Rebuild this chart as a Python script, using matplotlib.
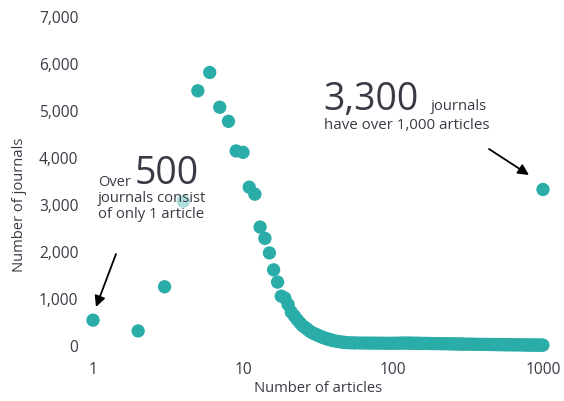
import matplotlib
matplotlib.use("Agg")
import matplotlib.pyplot as plt
from matplotlib.patches import Rectangle
from matplotlib.ticker import FuncFormatter

# Number of articles per journal (x) and how many journals have that count (y)
articles = list(range(1, 41)) + [
    42, 44, 46, 48, 50, 53, 56, 60, 64, 68, 72, 76, 80, 85, 90, 95, 100, 105,
    110, 115, 120, 125, 130, 135, 140, 145, 150, 157, 165, 172, 180, 190, 200,
    210, 220, 230, 240, 250, 260, 270, 280, 290, 300, 315, 330, 345, 360, 380,
    400, 420, 440, 460, 480, 500, 520, 540, 560, 580, 600, 625, 650, 675, 700,
    725, 750, 775, 800, 825, 850, 875, 900, 925, 950, 975, 999, 1000]
journals = [
    550, 320, 1260, 3080, 5430, 5820, 5080, 4780, 4150, 4120,
    3380, 3230, 2530, 2290, 1980, 1620, 1360, 1060, 1020, 880,
    720, 640, 560, 490, 430, 390, 350, 310, 280, 260,
    240, 220, 200, 185, 170, 155, 145, 135, 125, 115,
    100, 90, 82, 76, 70, 67, 65, 64, 63, 62, 61, 60, 60, 59, 58, 58, 58, 59,
    60, 61, 62, 61, 60, 59, 58, 57, 56, 56, 55, 54, 52, 51, 50,
    49, 48, 47, 46, 45, 44, 43, 42, 41, 40, 39, 38, 37, 36, 35,
    34, 33, 32, 31, 30, 29, 28, 28, 27, 26, 26, 25, 25, 24, 24,
    23, 22, 22, 21, 21, 20, 20, 19, 19, 18, 18, 18, 3330]

y_ticks = [0, 1000, 2000, 3000, 4000, 5000, 6000, 7000]
x_ticks = [1, 10, 100, 1000]
x_tick_labels = ["1", "10", "100", "1000"]

W, H = 564, 401
TEAL = "#2aaca8"
INK = "#3a3a45"

plt.rcParams["font.family"] = ["Open Sans", "DejaVu Sans"]

fig = plt.figure(figsize=(W / 100, H / 100), dpi=100)
ax = fig.add_axes([84 / W, 1 - 356 / H, (556 - 84) / W, (356 - 17) / H])

ax.scatter(articles, journals, s=92, color=TEAL, edgecolors="none",
           zorder=2, clip_on=False)

ax.set_xscale("log")
ax.set_xlim(0.871, 1221)
ax.set_ylim(-213, 7000)
ax.set_xticks(x_ticks)
ax.set_xticklabels(x_tick_labels)
ax.minorticks_off()
ax.set_yticks(y_ticks)
ax.yaxis.set_major_formatter(FuncFormatter(lambda v, p: f"{int(v):,}"))
ax.tick_params(axis="both", length=0, labelsize=11.2, colors=INK)
ax.tick_params(axis="y", pad=4)
ax.tick_params(axis="x", pad=4)
for s in ax.spines.values():
    s.set_visible(False)


def fx(px):
    return px / W


def fy(py):
    return 1 - py / H


fig.text(fx(318), fy(389), "Number of articles", ha="center", va="center",
         fontsize=10.6, color=INK)
fig.text(fx(20), fy(205), "Number of journals", ha="center", va="center",
         rotation=90, fontsize=10.6, color=INK)

# translucent panel behind the left callout
fig.patches.append(Rectangle((fx(95), fy(223)), (207 - 95) / W, (223 - 150) / H,
                             transform=fig.transFigure, facecolor="white",
                             alpha=0.62, edgecolor="none", zorder=3))

fig.text(fx(98), fy(186), "Over", ha="left", va="baseline", fontsize=10.5,
         color=INK, zorder=4)
fig.text(fx(135), fy(184), "500", ha="left", va="baseline", fontsize=27,
         color=INK, zorder=4)
fig.text(fx(98), fy(202), "journals consist", ha="left", va="baseline",
         fontsize=10.7, color=INK, zorder=4)
fig.text(fx(98), fy(218), "of only 1 article", ha="left", va="baseline",
         fontsize=10.7, color=INK, zorder=4)

fig.text(fx(323), fy(110), "3,300", ha="left", va="baseline", fontsize=27,
         color=INK, zorder=4)
fig.text(fx(431), fy(110), "journals", ha="left", va="baseline",
         fontsize=10.7, color=INK, zorder=4)
fig.text(fx(324), fy(129), "have over 1,000 articles", ha="left",
         va="baseline", fontsize=10.9, color=INK, zorder=4)

arrow = dict(arrowstyle="-|>", color="black", lw=1.3, mutation_scale=16,
             shrinkA=0, shrinkB=0)
ax.annotate("", xy=(96, H - 307), xytext=(116, H - 254),
            xycoords="figure pixels", textcoords="figure pixels",
            arrowprops=arrow)
ax.annotate("", xy=(529, H - 175), xytext=(489, H - 149),
            xycoords="figure pixels", textcoords="figure pixels",
            arrowprops=arrow)

fig.savefig("out.png", dpi=100)
